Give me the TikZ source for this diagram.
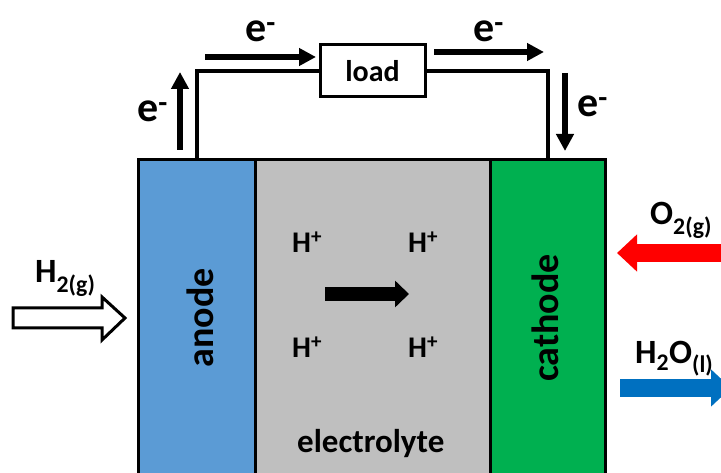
\documentclass[tikz,border=0pt]{standalone}
\usepackage{fontspec}
\setmainfont{Carlito}
\usetikzlibrary{arrows.meta,positioning}

\definecolor{anodeblue}{HTML}{5B9BD5}
\definecolor{electrogray}{HTML}{BFBFBF}
\definecolor{cathodegreen}{HTML}{00B050}
\definecolor{flowblue}{HTML}{0070C0}

\begin{document}
\begin{tikzpicture}[
  x=1pt, y=-1pt,
  node distance=0pt,
  layer/.style={draw, line width=3pt, minimum height=340pt, inner sep=0pt, outer sep=0pt},
  txt/.style={inner sep=0pt, font=\bfseries\fontsize{#1}{#1}\selectfont},
  wire/.style={line width=4pt, line join=miter},
  earr/.style={-{Triangle[length=17pt, width=17pt]}, line width=6pt},
  bigarr/.style={-{Triangle[length=20pt, width=36pt]}, line width=18pt}
]
\useasboundingbox (0,0) rectangle (721,473);
\clip (0,0) rectangle (721,473);

% cell layers
\node[layer, fill=anodeblue, minimum width=117pt, anchor=north west] (anode) at (138,160) {};
\node[layer, fill=electrogray, minimum width=235pt, right=of anode] (electrolyte) {};
\node[layer, fill=cathodegreen, minimum width=115pt, right=of electrolyte] (cathode) {};

\node[txt=38, rotate=90] (anodelbl) at (200,318) {anode};
\node[txt=38, rotate=90] (cathodelbl) at (545,318) {cathode};
\node[txt=33, anchor=base west] (electrolbl) at (297,452) {electrolyte};

% external circuit
\node[draw, line width=3pt, minimum width=105pt, minimum height=52pt, inner sep=0pt, font=\bfseries\fontsize{30}{30}\selectfont] (load) at (372.5,71) {load};
\draw[wire] (anode.north) |- (load.west);
\draw[wire] (cathode.north) |- (load.east);

% electrons
\draw[earr] (180,150) -- (180,72);
\draw[earr] (205,57) -- (316,57);
\draw[earr] (434,52) -- (544,52);
\draw[earr] (565,73) -- (565,151);
\node[txt=42, anchor=base west] (e1) at (137,122) {e\textsuperscript{-}};
\node[txt=42, anchor=base west] (e2) at (245,42) {e\textsuperscript{-}};
\node[txt=42, anchor=base west] (e3) at (473,42) {e\textsuperscript{-}};
\node[txt=42, anchor=base west] (e4) at (577,117) {e\textsuperscript{-}};

% protons
\node[txt=30, anchor=base west] (hp1) at (292,253) {H\textsuperscript{+}};
\node[txt=30, anchor=base west] (hp2) at (408,253) {H\textsuperscript{+}};
\node[txt=30, anchor=base west] (hp3) at (292,358) {H\textsuperscript{+}};
\node[txt=30, anchor=base west] (hp4) at (408,358) {H\textsuperscript{+}};
\draw[-{Triangle[length=14pt, width=26pt]}, line width=14pt] (325,294) -- (409,294);

% gases
\node[txt=34, anchor=base west] (h2) at (35,283) {H\textsubscript{2(g)}};
\draw[line width=3pt, fill=white, line join=miter] (13,308) -- (102,308) -- (102,297) -- (125,318) -- (102,340) -- (102,328) -- (13,328) -- cycle;
\node[txt=34, anchor=base west] (o2) at (650,225) {O\textsubscript{2(g)}};
\draw[bigarr, draw=red, fill=red] (730,253) -- (617,253);
\node[txt=34, anchor=base west] (h2o) at (635,363) {H\textsubscript{2}O\textsubscript{(l)}};
\draw[bigarr, draw=flowblue, fill=flowblue] (620,388) -- (731,388);
\end{tikzpicture}
\end{document}
